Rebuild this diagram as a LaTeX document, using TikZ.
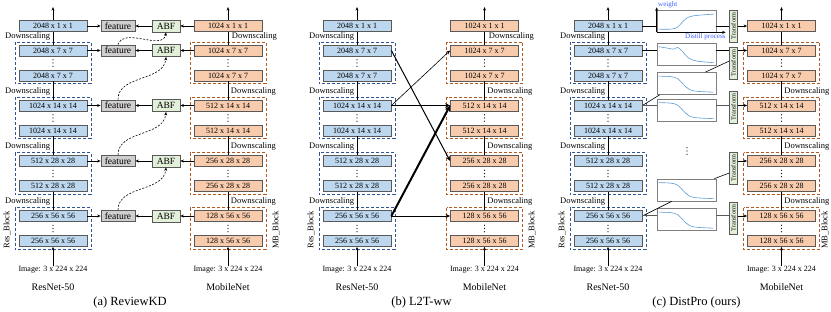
\documentclass[tikz,border=0pt]{standalone}
\usepackage{fontspec}
\setmainfont{Liberation Serif}
\usetikzlibrary{arrows.meta,calc}
\definecolor{bluebox}{HTML}{BDD7EE}
\definecolor{orgbox}{HTML}{F8CBAD}
\definecolor{grnbox}{HTML}{E2F0D9}
\definecolor{featbox}{HTML}{D0CECE}
\definecolor{edgecol}{HTML}{595959}
\definecolor{bdash}{HTML}{2F5597}
\definecolor{odash}{HTML}{B45A1E}
\definecolor{curvecol}{HTML}{5B9BD5}
\definecolor{bluetxt}{HTML}{3F5FFF}
\definecolor{plotedge}{HTML}{7F7F7F}
\begin{document}
\begin{tikzpicture}[x=1pt,y=-1pt,
  blk/.style={draw=edgecol, line width=0.8pt, minimum width=68pt, minimum height=11pt, inner sep=0pt, font=\fontsize{8}{8}\selectfont},
  tblk/.style={blk, fill=bluebox},
  sblk/.style={blk, fill=orgbox},
  featnode/.style={draw=edgecol, line width=0.8pt, fill=featbox, minimum width=34pt, minimum height=11pt, inner sep=0pt, font=\fontsize{9.5}{10}\selectfont},
  abfnode/.style={draw=edgecol, line width=0.8pt, fill=grnbox, minimum width=28pt, minimum height=12pt, inner sep=0pt, font=\fontsize{9.5}{10}\selectfont},
  trnode/.style={draw=edgecol, line width=0.8pt, fill=grnbox, minimum width=7.5pt, minimum height=32pt, inner sep=0pt, font=\fontsize{6.3}{6.3}\selectfont},
  plotbox/.style={draw=plotedge, line width=0.7pt, minimum width=59pt, minimum height=22pt, inner sep=0pt},
  grpb/.style={draw=bdash, line width=0.8pt, dash pattern=on 3pt off 2pt},
  grpo/.style={draw=odash, line width=0.8pt, dash pattern=on 3pt off 2pt},
  arr/.style={-{Stealth[length=3.5pt,width=3pt]}, line width=0.6pt},
  darr/.style={-{Stealth[length=3.5pt,width=3pt]}, line width=0.6pt, dash pattern=on 2pt off 1.5pt},
  conn/.style={line width=0.6pt},
  gconn/.style={line width=1pt, draw=edgecol},
  dlabel/.style={font=\fontsize{8.5}{9}\selectfont, inner sep=0pt},
  vlabel/.style={font=\fontsize{8.5}{9}\selectfont, rotate=90, inner sep=0pt},
  imglabel/.style={font=\fontsize{8}{9}\selectfont, inner sep=0pt},
  netlabel/.style={font=\fontsize{10}{11}\selectfont, inner sep=0pt},
  caption/.style={font=\fontsize{12.5}{13}\selectfont, inner sep=0pt},
  axlabel/.style={font=\fontsize{7}{8}\selectfont, text=bluetxt, inner sep=0pt},
  crv/.style={draw=curvecol, line width=0.6pt}
]
\useasboundingbox (0,0) rectangle (831,312);

% ---------- the three pairs of columns ----------
\foreach \p/\xl/\xr/\mbx in {a/53/228/276,b/357/484.5/532,c/608/781.5/825}{
  \node[tblk] (\p L0) at (\xl,26) {2048 x 1 x 1};
  \node[sblk] (\p R0) at (\xr,26) {1024 x 1 x 1};
  \draw[arr] (\p L0.north) -- ++(0,-13);
  \draw[arr] (\p R0.north) -- ++(0,-13);
  \foreach \k/\y/\tl/\tr in {1/50.5/2048 x 7 x 7/1024 x 7 x 7,
                             2/105.5/1024 x 14 x 14/512 x 14 x 14,
                             3/161/512 x 28 x 28/256 x 28 x 28,
                             4/216/256 x 56 x 56/128 x 56 x 56}{
    \node[tblk] (\p L\k) at (\xl,\y) {\tl};
    \node[tblk] (\p L\k b) at (\xl,\y+25) {\tl};
    \node[sblk] (\p R\k) at (\xr,\y) {\tr};
    \node[sblk] (\p R\k b) at (\xr,\y+25) {\tr};
    \draw[grpb] ($(\p L\k.north west)+(-3.5,-2.5)$) rectangle ($(\p L\k b.south east)+(3.5,2.5)$);
    \draw[grpo] ($(\p R\k.north west)+(-3.5,-2.5)$) rectangle ($(\p R\k b.south east)+(3.5,2.5)$);
    \foreach \dd in {-3.2,0,3.2}{
      \fill (\xl,\y+12.5+\dd) circle[radius=0.6pt];
      \fill (\xr,\y+12.5+\dd) circle[radius=0.6pt];
    }
    \node[dlabel, anchor=west] at (\xl-48,\y-14.5) {Downscaling};
  }
  \foreach \k/\y in {2/105.5,3/161,4/216}{
    \node[dlabel, anchor=east] at (\xr+48,\y-14.5) {Downscaling};
  }
  \draw[conn] (\p L0.south) -- (\p L1.north);
  \draw[conn] (\p R0.south) -- (\p R1.north);
  \foreach \k/\m in {1/2,2/3,3/4}{
    \draw[conn] (\p L\k b.south) -- (\p L\m.north);
    \draw[conn] (\p R\k b.south) -- (\p R\m.north);
  }
  \node[imglabel] (\p IL) at (\xl,270) {Image: 3 x 224 x 224};
  \node[imglabel] (\p IR) at (\xr,270) {Image: 3 x 224 x 224};
  \draw[arr] (\p IL.north) -- (\p L4b.south);
  \draw[arr] (\p IR.north) -- (\p R4b.south);
  \node[netlabel] at (\xl,287) {ResNet-50};
  \node[netlabel] at (\xr,287) {MobileNet};
  \node[vlabel] at (\xl-46,230) {Res\_Block};
  \node[vlabel] at (\mbx,230) {MB\_Block};
}
\node[dlabel, anchor=east] at (277,36) {Downscaling};
\node[dlabel, anchor=east] at (534,36) {Downscaling};

% ---------- (a) ReviewKD ----------
\foreach \k/\y in {0/26,1/50.5,2/105.5,3/161,4/216}{
  \node[featnode] (f\k) at (118,\y) {feature};
  \node[abfnode] (abf\k) at (166,\y) {ABF};
  \draw[arr] (aL\k.east) -- (f\k.west);
  \draw[arr] (abf\k.west) -- (f\k.east);
  \draw[arr] (aR\k.west) -- (abf\k.east);
}
\draw[darr] (f1.north) to[out=70,in=-100] (abf0.south);
\foreach \k/\m in {2/1,3/2,4/3}{
  \draw[darr] (f\k.north) to[out=90,in=-95] (abf\m.south);
}
\node[caption] at (130,302) {(a) ReviewKD};

% ---------- (b) L2T-ww ----------
\draw[-{Stealth[length=5pt,width=4pt]}, line width=1pt] (bL1.east) -- (bR3.west);
\draw[-{Stealth[length=4pt,width=3.5pt]}, line width=0.6pt] (bL2.east) -- (bR1.west);
\draw[-{Stealth[length=5pt,width=4.5pt]}, line width=1.3pt] (bL2.east) -- (bR2.west);
\draw[-{Stealth[length=6pt,width=5.5pt]}, line width=2pt] (bL4.east) -- (bR2.west);
\draw[-{Stealth[length=4.5pt,width=4pt]}, line width=0.8pt] (bL4.east) -- (bR4.west);
\node[caption] at (421.5,302) {(b) L2T-ww};

% ---------- (c) DistPro ----------
\node[plotbox] (p1) at (686.5,21) {};
\node[plotbox] (p2) at (686.5,54) {};
\node[plotbox] (p3) at (686.5,83.5) {};
\node[plotbox] (p4) at (686.5,110) {};
\node[plotbox] (p5) at (686.5,190) {};
\node[plotbox] (p6) at (686.5,219.5) {};
% axes of the first plot
\draw[arr] (p1.south west) -- ++(0,-25);
\draw[arr] (p1.south west) -- ++(69,0);
\node[axlabel, anchor=west] at (658,5) {weight};
\node[axlabel, anchor=west] at (685,37) {Distill process};
% curves
\begin{scope}[shift={(p1.north west)}]
  \draw[crv] plot[smooth, tension=0.6] coordinates {(2,19.5) (14,19.5) (21,17.5) (27,11) (33,7) (43,5.5) (57,4.5)};
\end{scope}
\begin{scope}[shift={(p2.north west)}]
  \draw[crv] plot[smooth, tension=0.6] coordinates {(2,4) (11,5.5) (17,6.5) (21,4.8) (26,9) (32,15.5) (41,18.5) (57,20)};
\end{scope}
\foreach \q in {p3,p4,p5,p6}{
  \begin{scope}[shift={(\q.north west)}]
    \draw[crv] plot[smooth, tension=0.6] coordinates {(2,4) (14,4.5) (21,6.5) (27,12.5) (33,17.5) (41,19.2) (57,20)};
  \end{scope}
}
% transforms
\node[trnode] (t0) at (733.5,26) {\rotatebox{90}{Transform}};
\node[trnode] (t1) at (733.5,63) {\rotatebox{90}{Transform}};
\node[trnode] (t2) at (733.5,107) {\rotatebox{90}{Transform}};
\node[trnode] (t3) at (733.5,168) {\rotatebox{90}{Transform}};
\node[trnode] (t4) at (733.5,218) {\rotatebox{90}{Transform}};
% connectors
\draw[conn] (cL0.east) -- (cL0.east -| p1.west);
\draw[conn] (cL0.east -| p1.east) -- (cL0.east -| t0.west);
\draw[conn] (cL1.east) -- (cL1.east -| p2.west);
\draw[conn] (cL1.east -| p2.east) -- (cL1.east -| t1.west);
\draw[conn] (cL2.east) -- ($(p3.south west)+(3,0)$);
\draw[conn] ($(p3.north east)+(-11,0)$) -- ($(t1.west)+(0,-2)$);
\draw[gconn] (cL2.east) -- (cL2.east -| p4.west);
\draw[gconn] (cL2.east -| p4.east) -- (cL2.east -| t2.west);
\draw[conn] (cL4.east) -- ($(p5.south west)+(15,0)$);
\draw[conn] ($(p5.north east)+(-2,0)$) -- ($(t3.west)+(0,5)$);
\draw[gconn] (cL4.east) -- (cL4.east -| p6.west);
\draw[gconn] (cL4.east -| p6.east) -- (cL4.east -| t4.west);
\foreach \k in {0,1,2,3,4}{
  \draw[arr] (cR\k.west -| t\k.east) -- (cR\k.west);
}
\foreach \dd in {-3.2,0,3.2}{
  \fill (687,151+\dd) circle[radius=0.6pt];
}
\node[caption] at (696.5,302) {(c) DistPro (ours)};
\end{tikzpicture}
\end{document}
